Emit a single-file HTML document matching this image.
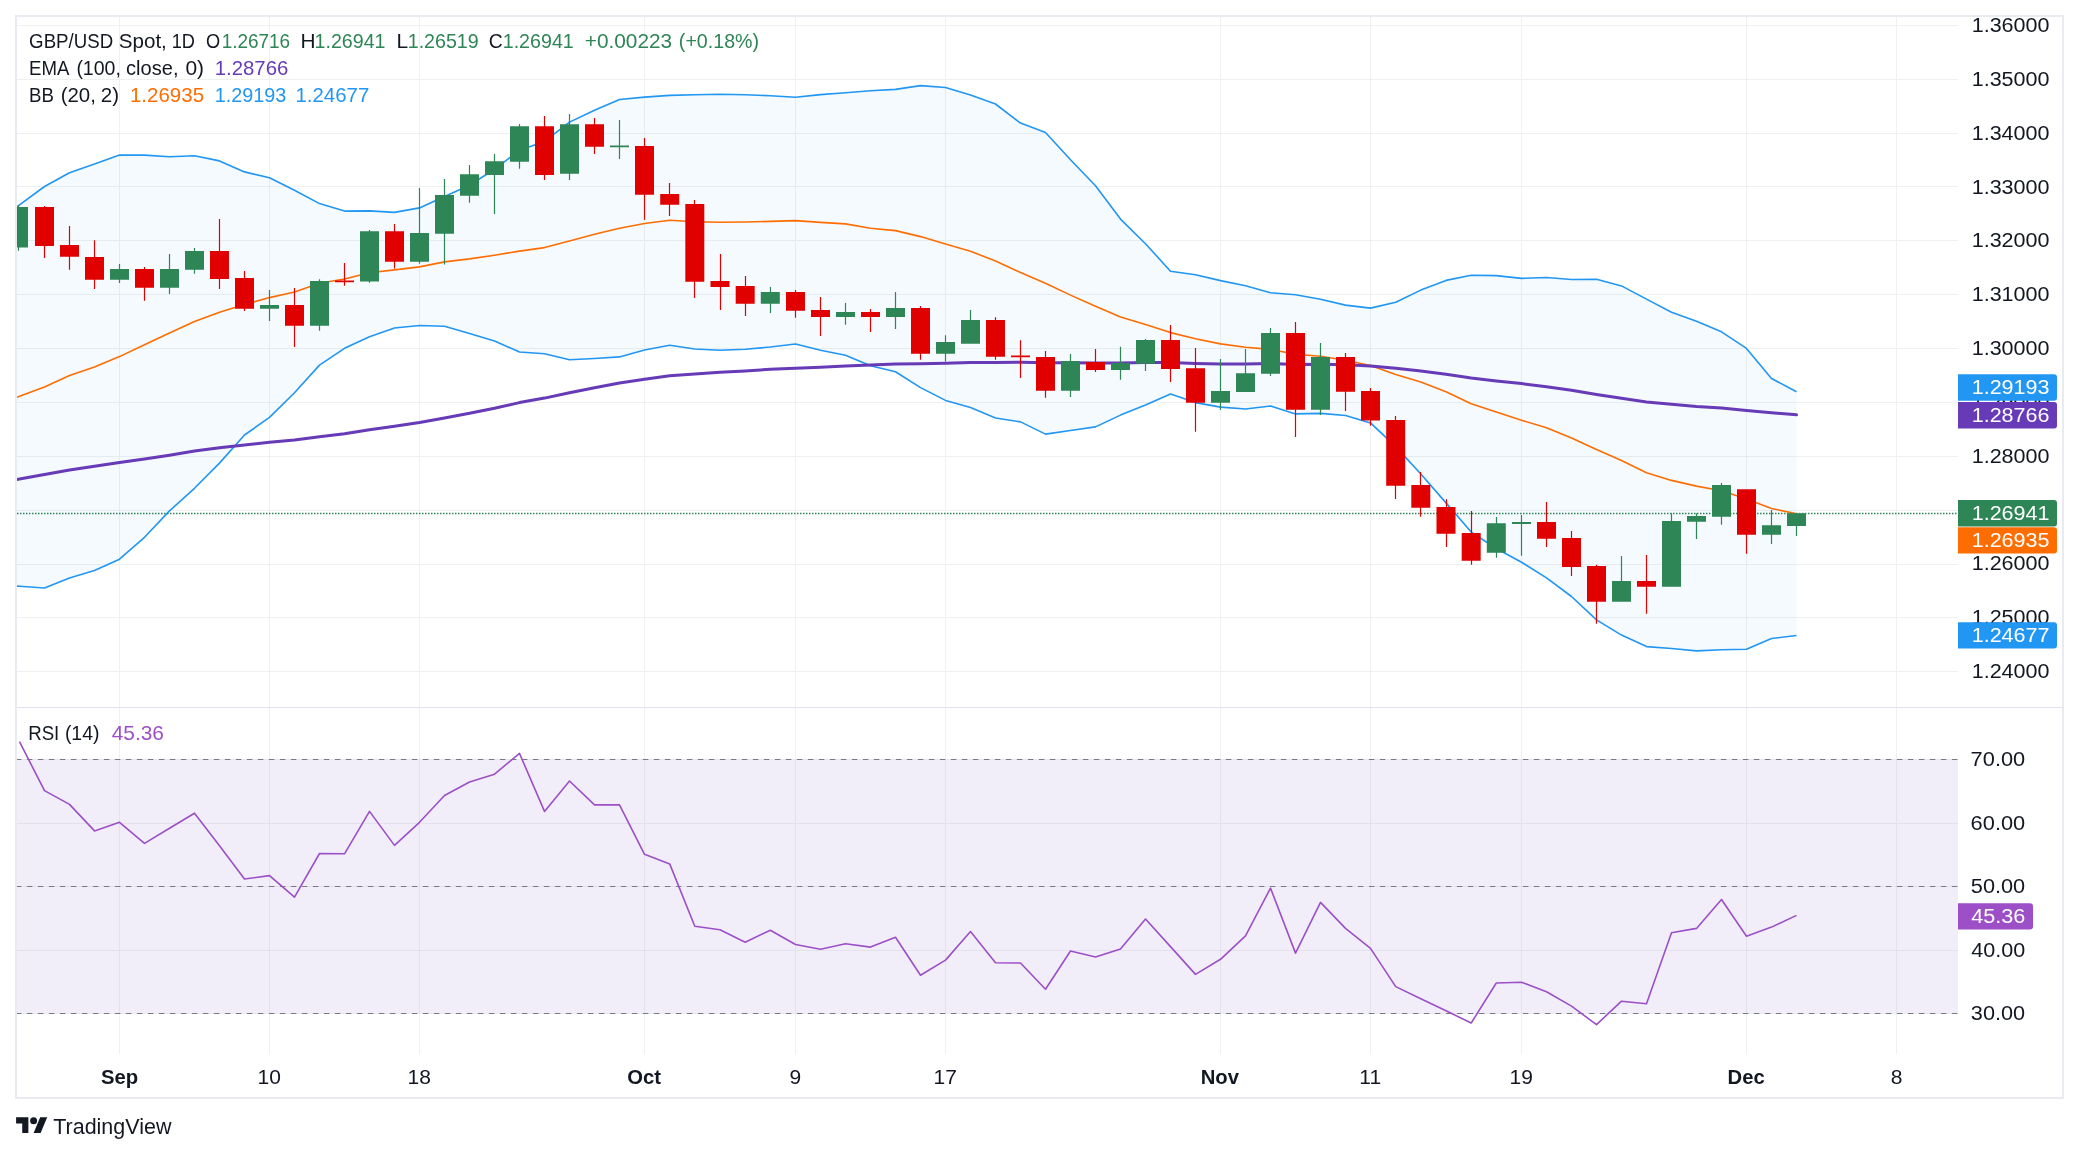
<!DOCTYPE html><html><head><meta charset="utf-8"><style>html,body{margin:0;padding:0;background:#fff;}body{width:2079px;height:1154px;position:relative;overflow:hidden;}</style></head><body><svg width="2079" height="1154" viewBox="0 0 2079 1154" style="position:absolute;left:0;top:0;will-change:transform">
<defs><clipPath id="cm"><rect x="17" y="17" width="1941" height="689"/></clipPath><clipPath id="cr"><rect x="17" y="708" width="1941" height="346"/></clipPath></defs>
<rect width="2079" height="1154" fill="#fff"/>
<path d="M17 25.5H1958M17 79.5H1958M17 133.5H1958M17 186.5H1958M17 240.5H1958M17 294.5H1958M17 348.5H1958M17 402.5H1958M17 456.5H1958M17 510.5H1958M17 564.5H1958M17 617.5H1958M17 671.5H1958M17 759.5H1958M17 823.5H1958M17 886.5H1958M17 950.5H1958M17 1013.5H1958M119.5 17V1054M269.5 17V1054M419.5 17V1054M644.5 17V1054M795.5 17V1054M945.5 17V1054M1220.5 17V1054M1370.5 17V1054M1521.5 17V1054M1746.5 17V1054M1896.5 17V1054" stroke="#eff1f1" stroke-width="1" fill="none"/>
<rect x="17" y="707" width="2045" height="1" fill="#e0e3eb"/>
<g clip-path="url(#cm)">
<polygon points="-5.5,223.1 19.5,204.8 44.5,186.5 69.5,172.7 94.5,163.9 119.5,155.1 144.5,155.1 169.5,156.8 194.5,155.8 219.5,160.9 244.5,171.9 269.5,177.7 294.5,190.3 319.5,203.6 344.5,211.1 369.5,210.9 394.5,212.4 419.5,207.9 444.5,196.5 469.5,185.2 494.5,169.3 519.5,150.3 544.5,141.4 569.5,122.1 594.5,110.2 619.5,99.5 644.5,97.1 669.7,95.4 694.8,94.7 720,94.3 745.2,94.7 770.3,95.7 795.5,97.3 820.5,94.6 845.5,92.7 870.5,90.8 895.5,89.4 920.5,85.6 945.5,87.5 970.5,94.9 995.5,104 1020.5,123.1 1045.5,132.5 1070.5,159.8 1095.5,185.7 1120.5,219.1 1145.5,243.7 1170.5,271.2 1195.5,274.7 1220.5,280.6 1245.5,285.7 1270.5,292.7 1295.5,294.8 1320.5,299.3 1345.5,305.1 1370.5,308.1 1395.7,302.2 1420.8,290.1 1446,280.4 1471.2,275.3 1496.3,275.6 1521.5,278.4 1546.5,277.5 1571.5,279.5 1596.5,279.3 1621.5,285.9 1646.5,299.1 1671.5,312.3 1696.5,321.3 1721.5,331.8 1746.5,348.4 1771.5,378.5 1796.5,391.8 1796.5,635.5 1771.5,638.5 1746.5,649.3 1721.5,649.8 1696.5,650.9 1671.5,648.5 1646.5,646.6 1621.5,635.1 1596.5,619.9 1571.5,596.5 1546.5,577.9 1521.5,562.2 1496.3,548.5 1471.2,532.1 1446,502.9 1420.8,474 1395.7,446.6 1370.5,422.9 1345.5,415.5 1320.5,413.4 1295.5,413.9 1270.5,406 1245.5,409 1220.5,407.1 1195.5,402.6 1170.5,394 1145.5,405.1 1120.5,415.1 1095.5,426.9 1070.5,430.5 1045.5,434.1 1020.5,421.9 995.5,418 970.5,407.6 945.5,400.4 920.5,387.6 895.5,371.7 870.5,365.7 845.5,355.2 820.5,350.2 795.5,344 770.3,347 745.2,349.3 720,350.2 694.8,349 669.7,345.2 644.5,350 619.5,356.9 594.5,358.5 569.5,359.8 544.5,353.7 519.5,352 494.5,341 469.5,333.5 444.5,326.2 419.5,325.5 394.5,328 369.5,336.8 344.5,348.3 319.5,365.1 294.5,392.8 269.5,417.4 244.5,435 219.5,463.1 194.5,488.3 169.5,510.9 144.5,537.3 119.5,559.2 94.5,570.5 69.5,578 44.5,588 19.5,586.3 -5.5,584.6" fill="rgba(33,150,243,0.05)"/>
<polyline points="-5.5,223.1 19.5,204.8 44.5,186.5 69.5,172.7 94.5,163.9 119.5,155.1 144.5,155.1 169.5,156.8 194.5,155.8 219.5,160.9 244.5,171.9 269.5,177.7 294.5,190.3 319.5,203.6 344.5,211.1 369.5,210.9 394.5,212.4 419.5,207.9 444.5,196.5 469.5,185.2 494.5,169.3 519.5,150.3 544.5,141.4 569.5,122.1 594.5,110.2 619.5,99.5 644.5,97.1 669.7,95.4 694.8,94.7 720,94.3 745.2,94.7 770.3,95.7 795.5,97.3 820.5,94.6 845.5,92.7 870.5,90.8 895.5,89.4 920.5,85.6 945.5,87.5 970.5,94.9 995.5,104 1020.5,123.1 1045.5,132.5 1070.5,159.8 1095.5,185.7 1120.5,219.1 1145.5,243.7 1170.5,271.2 1195.5,274.7 1220.5,280.6 1245.5,285.7 1270.5,292.7 1295.5,294.8 1320.5,299.3 1345.5,305.1 1370.5,308.1 1395.7,302.2 1420.8,290.1 1446,280.4 1471.2,275.3 1496.3,275.6 1521.5,278.4 1546.5,277.5 1571.5,279.5 1596.5,279.3 1621.5,285.9 1646.5,299.1 1671.5,312.3 1696.5,321.3 1721.5,331.8 1746.5,348.4 1771.5,378.5 1796.5,391.8" fill="none" stroke="#2196f3" stroke-width="1.6" stroke-linejoin="round"/>
<polyline points="-5.5,584.6 19.5,586.3 44.5,588 69.5,578 94.5,570.5 119.5,559.2 144.5,537.3 169.5,510.9 194.5,488.3 219.5,463.1 244.5,435 269.5,417.4 294.5,392.8 319.5,365.1 344.5,348.3 369.5,336.8 394.5,328 419.5,325.5 444.5,326.2 469.5,333.5 494.5,341 519.5,352 544.5,353.7 569.5,359.8 594.5,358.5 619.5,356.9 644.5,350 669.7,345.2 694.8,349 720,350.2 745.2,349.3 770.3,347 795.5,344 820.5,350.2 845.5,355.2 870.5,365.7 895.5,371.7 920.5,387.6 945.5,400.4 970.5,407.6 995.5,418 1020.5,421.9 1045.5,434.1 1070.5,430.5 1095.5,426.9 1120.5,415.1 1145.5,405.1 1170.5,394 1195.5,402.6 1220.5,407.1 1245.5,409 1270.5,406 1295.5,413.9 1320.5,413.4 1345.5,415.5 1370.5,422.9 1395.7,446.6 1420.8,474 1446,502.9 1471.2,532.1 1496.3,548.5 1521.5,562.2 1546.5,577.9 1571.5,596.5 1596.5,619.9 1621.5,635.1 1646.5,646.6 1671.5,648.5 1696.5,650.9 1721.5,649.8 1746.5,649.3 1771.5,638.5 1796.5,635.5" fill="none" stroke="#2196f3" stroke-width="1.6" stroke-linejoin="round"/>
<polyline points="-5.5,405.6 19.5,396.3 44.5,387 69.5,375.5 94.5,366.9 119.5,356.6 144.5,344.8 169.5,333 194.5,321.5 219.5,312.2 244.5,304.6 269.5,297.6 294.5,292 319.5,283.3 344.5,279 369.5,272.7 394.5,269.9 419.5,266.9 444.5,261.9 469.5,258.9 494.5,255.2 519.5,251.1 544.5,247.6 569.5,241 594.5,234.3 619.5,228.2 644.5,223.5 669.7,220.3 694.8,221.8 720,222.3 745.2,222 770.3,221.4 795.5,220.6 820.5,222.4 845.5,223.9 870.5,228.2 895.5,230.6 920.5,236.6 945.5,243.9 970.5,251.2 995.5,261 1020.5,272.5 1045.5,283.3 1070.5,295.1 1095.5,306.3 1120.5,317.1 1145.5,324.4 1170.5,332.6 1195.5,338.7 1220.5,343.9 1245.5,347.3 1270.5,349.4 1295.5,354.3 1320.5,356.3 1345.5,360.3 1370.5,365.5 1395.7,374.4 1420.8,382.1 1446,391.7 1471.2,403.7 1496.3,412 1521.5,420.3 1546.5,427.7 1571.5,438 1596.5,449.6 1621.5,460.5 1646.5,472.8 1671.5,480.4 1696.5,486.1 1721.5,490.8 1746.5,498.9 1771.5,508.5 1796.5,513.7" fill="none" stroke="#ff6d00" stroke-width="1.6" stroke-linejoin="round"/>
<polyline points="-5.5,483.6 19.5,479 44.5,474.4 69.5,470.1 94.5,466.3 119.5,462.4 144.5,458.9 169.5,455.2 194.5,451.1 219.5,447.7 244.5,445 269.5,442.2 294.5,439.9 319.5,436.8 344.5,433.7 369.5,429.7 394.5,426.3 419.5,422.5 444.5,418 469.5,413.2 494.5,408.2 519.5,402.6 544.5,398.1 569.5,392.7 594.5,387.8 619.5,383 644.5,379.3 669.7,375.8 694.8,374 720,372.3 745.2,370.9 770.3,369.3 795.5,368.2 820.5,367.2 845.5,366.1 870.5,365.1 895.5,364 920.5,363.8 945.5,363.3 970.5,362.5 995.5,362.4 1020.5,362.3 1045.5,362.8 1070.5,362.8 1095.5,362.9 1120.5,362.9 1145.5,362.5 1170.5,362.6 1195.5,363.4 1220.5,363.9 1245.5,364.1 1270.5,363.5 1295.5,364.4 1320.5,364.3 1345.5,364.8 1370.5,365.9 1395.7,368.3 1420.8,371.1 1446,374.3 1471.2,378 1496.3,380.9 1521.5,383.6 1546.5,386.7 1571.5,390.3 1596.5,394.5 1621.5,398.2 1646.5,401.9 1671.5,404.3 1696.5,406.5 1721.5,408 1746.5,410.5 1771.5,412.8 1796.5,414.8" fill="none" stroke="#673ab7" stroke-width="3" stroke-linejoin="round" stroke-linecap="round"/>
<path d="M17 513.4H1958" stroke="#2e8555" stroke-width="1.5" stroke-dasharray="1.5 1.5"/>
<path d="M9 207H28V247.6H9ZM17.9 205.1H19.1V250.8H17.9ZM110 269H129V279.8H110ZM118.9 264H120.1V282.9H118.9ZM160 269H179V287.8H160ZM168.9 254H170.1V294H168.9ZM185 251H204V269.7H185ZM193.9 248.1H195.1V273.8H193.9ZM260 305.1H279V308.7H260ZM268.9 290H270.1V321H268.9ZM310 281H329V325.7H310ZM318.9 279.2H320.1V330.8H318.9ZM360 231.2H379V281.6H360ZM368.9 230H370.1V282.8H368.9ZM410 233.1H429V261.7H410ZM418.9 188H420.1V263.8H418.9ZM435 195H454V233.8H435ZM443.9 178.9H445.1V264.6H443.9ZM460 174.2H479V195.7H460ZM468.9 165H470.1V202.8H468.9ZM485 161.2H504V174.9H485ZM493.9 154.1H495.1V213.9H493.9ZM510 126.2H529V161.7H510ZM518.9 123.9H520.1V168.8H518.9ZM560 124.3H579V173.8H560ZM568.9 113.9H570.1V180.1H568.9ZM610 145.5H629V147.3H610ZM618.9 120.1H620.1V158.9H618.9ZM760.8 292H779.8V303.8H760.8ZM769.9 287H771.1V313H769.9ZM836 312.1H855V317H836ZM844.9 302.9H846.1V324.8H844.9ZM886 308.1H905V317H886ZM894.9 292H896.1V328.9H894.9ZM936 342.1H955V353.7H936ZM944.9 335.2H946.1V361.5H944.9ZM961 320H980V343.7H961ZM969.9 310.1H971.1V343.7H969.9ZM1061 361.1H1080V390.7H1061ZM1069.9 354.1H1071.1V396.9H1069.9ZM1111 363H1130V369.9H1111ZM1119.9 346.8H1121.1V379.8H1119.9ZM1136 340.1H1155V363.7H1136ZM1144.9 339H1146.1V370.9H1144.9ZM1211 391H1230V402.8H1211ZM1219.9 359H1221.1V409.9H1219.9ZM1236 373.2H1255V391.9H1236ZM1244.9 348.9H1246.1V391.9H1244.9ZM1261 332.9H1280V373.8H1261ZM1269.9 327.9H1271.1V375.9H1269.9ZM1311 357H1330V409.8H1311ZM1319.9 342.9H1321.1V414.9H1319.9ZM1486.8 523.2H1505.8V552.7H1486.8ZM1495.9 517.1H1497.1V557.8H1495.9ZM1512 522H1531V523.9H1512ZM1520.9 515H1522.1V555.8H1520.9ZM1612 581.1H1631V601.7H1612ZM1620.9 556.1H1622.1V601.7H1620.9ZM1662 521H1681V586.8H1662ZM1670.9 513.3H1672.1V586.8H1670.9ZM1687 516H1706V521.8H1687ZM1695.9 513.3H1697.1V538.9H1695.9ZM1712 485.1H1731V516.7H1712ZM1720.9 483H1722.1V524.8H1720.9ZM1762 525.2H1781V534.7H1762ZM1770.9 510.1H1772.1V543.9H1770.9ZM1787 513.3H1806V525.9H1787ZM1795.9 513.3H1797.1V536H1795.9Z" fill="#2e8555"/>
<path d="M35 207H54V245.9H35ZM43.9 205.9H45.1V257.9H43.9ZM60 245.1H79V256.8H60ZM68.9 226H70.1V269.8H68.9ZM85 257.1H104V279.8H85ZM93.9 240.2H95.1V288.9H93.9ZM135 269H154V287.8H135ZM143.9 267H145.1V300.8H143.9ZM210 251H229V278.9H210ZM218.9 219H220.1V288.9H218.9ZM235 278.1H254V308.7H235ZM243.9 271.1H245.1V311H243.9ZM285 305.1H304V325.7H285ZM293.9 288.1H295.1V347.1H293.9ZM335 280.4H354V282.2H335ZM343.9 262.9H345.1V285.8H343.9ZM385 231.2H404V261.7H385ZM393.9 224.1H395.1V268.5H393.9ZM535 126.2H554V174.9H535ZM543.9 115.9H545.1V180.1H543.9ZM585 124.3H604V146.8H585ZM593.9 117.9H595.1V154.1H593.9ZM635 146.1H654V194.8H635ZM643.9 138.1H645.1V219.8H643.9ZM660.2 193.9H679.2V204.7H660.2ZM668.9 183H670.1V215.9H668.9ZM685.3 204H704.3V281.8H685.3ZM693.9 200H695.1V297.9H693.9ZM710.5 280.9H729.5V287H710.5ZM719.9 254.1H721.1V309.9H719.9ZM735.7 286.1H754.7V303.8H735.7ZM744.9 276.1H746.1V315.9H744.9ZM786 292H805V310.8H786ZM794.9 289.9H796.1V317.8H794.9ZM811 310H830V317H811ZM819.9 297H821.1V335.9H819.9ZM861 312.1H880V317H861ZM869.9 309H871.1V332H869.9ZM911 308.1H930V353.7H911ZM919.9 306H921.1V359.8H919.9ZM986 320H1005V356.7H986ZM994.9 317.2H996.1V359.8H994.9ZM1011 355.5H1030V357.3H1011ZM1019.9 340.3H1021.1V377.9H1019.9ZM1036 357.1H1055V390.7H1036ZM1044.9 351H1046.1V397.8H1044.9ZM1086 361.9H1105V369.9H1086ZM1094.9 348.9H1096.1V372H1094.9ZM1161 340.1H1180V368.9H1161ZM1169.9 325H1171.1V381.9H1169.9ZM1186 368.2H1205V402.8H1186ZM1194.9 348.1H1196.1V431.8H1194.9ZM1286 332.9H1305V409.8H1286ZM1294.9 322.1H1296.1V436.9H1294.9ZM1336 357H1355V391.8H1336ZM1344.9 353H1346.1V410.9H1344.9ZM1361 390.9H1380V420.6H1361ZM1369.9 388H1371.1V425.8H1369.9ZM1386.2 419.9H1405.2V485.8H1386.2ZM1394.9 416.1H1396.1V498.9H1394.9ZM1411.3 485.1H1430.3V507.8H1411.3ZM1419.9 472.1H1421.1V516.8H1419.9ZM1436.5 507.1H1455.5V533.8H1436.5ZM1445.9 499.3H1447.1V546.9H1445.9ZM1461.7 533.1H1480.7V560.8H1461.7ZM1470.9 511.1H1472.1V564.8H1470.9ZM1537 522H1556V538.8H1537ZM1545.9 501.9H1547.1V546.9H1545.9ZM1562 538.1H1581V566.9H1562ZM1570.9 531H1572.1V576H1570.9ZM1587 566H1606V601.7H1587ZM1595.9 564.8H1597.1V623.7H1595.9ZM1637 581.1H1656V586.8H1637ZM1645.9 554.9H1647.1V613.8H1645.9ZM1737 489.2H1756V534.7H1737ZM1745.9 489.2H1747.1V553.8H1745.9Z" fill="#e00000"/>
</g>
<g clip-path="url(#cr)">
<rect x="17" y="759.5" width="1941" height="253.9" fill="rgba(126,87,194,0.1)"/>
<path d="M15.9 759.5H1958" stroke="#787b86" stroke-width="1" stroke-dasharray="5.5 5.5"/>
<path d="M15.9 886.5H1958" stroke="#787b86" stroke-width="1" stroke-dasharray="5.5 5.5"/>
<path d="M15.9 1013.5H1958" stroke="#787b86" stroke-width="1" stroke-dasharray="5.5 5.5"/>
<polyline points="19.5,741.7 44.5,790.6 69.5,804.4 94.5,830.9 119.5,822.3 144.5,843.4 169.5,828.3 194.5,813.2 219.5,845.7 244.5,879 269.5,875.6 294.5,897.2 319.5,853.5 344.5,853.8 369.5,811.4 394.5,845.4 419.5,822.3 444.5,795.5 469.5,782 494.5,774.2 519.5,753.4 544.5,811.4 569.5,781 594.5,804.9 619.5,804.9 644.5,854.3 669.7,863.9 694.8,926.3 720,929.7 745.2,942.2 770.3,930.2 795.5,944.5 820.5,949.2 845.5,943.7 870.5,947.1 895.5,937.2 920.5,975.2 945.5,960.1 970.5,931.5 995.5,962.7 1020.5,963 1045.5,989.2 1070.5,951 1095.5,957 1120.5,948.9 1145.5,919 1170.5,946.6 1195.5,974.4 1220.5,959.3 1245.5,935.9 1270.5,888.1 1295.5,953.1 1320.5,902.4 1345.5,928.4 1370.5,948.4 1395.7,986.6 1420.8,998.7 1446,1010.8 1471.2,1023 1496.3,983 1521.5,982.2 1546.5,991.8 1571.5,1006.1 1596.5,1024.6 1621.5,1001.2 1646.5,1003.8 1671.5,932.8 1696.5,928.4 1721.5,899.5 1746.5,936.2 1771.5,927.1 1796.5,915.4" fill="none" stroke="#9c4fc6" stroke-width="1.6" stroke-linejoin="round"/>
</g>
<path d="M15 15H2064V17H15ZM15 1097H2064V1099H15ZM15 17H17V1097H15ZM2062 17H2064V1097H2062Z" fill="#e9ebf0"/>
<g font-family="Liberation Sans, sans-serif" font-size="19.6" fill="#131722"><text x="1971.68" y="32.15" textLength="77.87" lengthAdjust="spacingAndGlyphs">1.36000</text><text x="1971.68" y="85.98" textLength="77.87" lengthAdjust="spacingAndGlyphs">1.35000</text><text x="1971.68" y="139.82" textLength="77.87" lengthAdjust="spacingAndGlyphs">1.34000</text><text x="1971.68" y="193.65" textLength="77.87" lengthAdjust="spacingAndGlyphs">1.33000</text><text x="1971.68" y="247.48" textLength="77.87" lengthAdjust="spacingAndGlyphs">1.32000</text><text x="1971.68" y="301.31" textLength="77.87" lengthAdjust="spacingAndGlyphs">1.31000</text><text x="1971.68" y="355.15" textLength="77.87" lengthAdjust="spacingAndGlyphs">1.30000</text><text x="1971.68" y="408.98" textLength="77.87" lengthAdjust="spacingAndGlyphs">1.29000</text><text x="1971.68" y="462.81" textLength="77.87" lengthAdjust="spacingAndGlyphs">1.28000</text><text x="1971.68" y="516.65" textLength="77.87" lengthAdjust="spacingAndGlyphs">1.27000</text><text x="1971.68" y="570.48" textLength="77.87" lengthAdjust="spacingAndGlyphs">1.26000</text><text x="1971.68" y="624.31" textLength="77.87" lengthAdjust="spacingAndGlyphs">1.25000</text><text x="1971.68" y="678.15" textLength="77.87" lengthAdjust="spacingAndGlyphs">1.24000</text><text x="1970.61" y="765.70" textLength="54.61" lengthAdjust="spacingAndGlyphs">70.00</text><text x="1970.61" y="829.70" textLength="54.61" lengthAdjust="spacingAndGlyphs">60.00</text><text x="1970.83" y="892.70" textLength="54.39" lengthAdjust="spacingAndGlyphs">50.00</text><text x="1971.21" y="956.70" textLength="54.00" lengthAdjust="spacingAndGlyphs">40.00</text><text x="1970.89" y="1019.70" textLength="54.33" lengthAdjust="spacingAndGlyphs">30.00</text></g>
<g font-family="Liberation Sans, sans-serif" font-size="19.6"><path d="M1958 374.3H2054Q2057 374.3 2057 377.3V397.7Q2057 400.7 2054 400.7H1958Z" fill="#2196f3"/><text x="1971.68" y="394.00" textLength="77.87" lengthAdjust="spacingAndGlyphs" fill="#fff">1.29193</text><path d="M1958 402.1H2054Q2057 402.1 2057 405.1V425.5Q2057 428.5 2054 428.5H1958Z" fill="#673ab7"/><text x="1971.68" y="421.80" textLength="77.87" lengthAdjust="spacingAndGlyphs" fill="#fff">1.28766</text><path d="M1958 500.1H2054Q2057 500.1 2057 503.1V523.5Q2057 526.5 2054 526.5H1958Z" fill="#2e8555"/><text x="1971.68" y="519.80" textLength="77.87" lengthAdjust="spacingAndGlyphs" fill="#fff">1.26941</text><path d="M1958 527.2H2054Q2057 527.2 2057 530.2V550.6Q2057 553.6 2054 553.6H1958Z" fill="#ff6d00"/><text x="1971.68" y="546.90" textLength="77.87" lengthAdjust="spacingAndGlyphs" fill="#fff">1.26935</text><path d="M1958 622.2H2054Q2057 622.2 2057 625.2V645.6Q2057 648.6 2054 648.6H1958Z" fill="#2196f3"/><text x="1971.68" y="641.90" textLength="77.87" lengthAdjust="spacingAndGlyphs" fill="#fff">1.24677</text><path d="M1958 903.2H2030Q2033 903.2 2033 906.2V926.6Q2033 929.6 2030 929.6H1958Z" fill="#9c4fc6"/><text x="1971.21" y="922.90" textLength="54.11" lengthAdjust="spacingAndGlyphs" fill="#fff">45.36</text></g>
<g font-family="Liberation Sans, sans-serif" font-size="19.6" fill="#131722"><text x="101.04" y="1084.00" textLength="37.15" lengthAdjust="spacingAndGlyphs" font-weight="bold">Sep</text><text x="257.44" y="1084.00" textLength="23.38" lengthAdjust="spacingAndGlyphs">10</text><text x="407.50" y="1084.00" textLength="23.38" lengthAdjust="spacingAndGlyphs">18</text><text x="627.33" y="1084.00" textLength="33.77" lengthAdjust="spacingAndGlyphs" font-weight="bold">Oct</text><text x="789.64" y="1084.00" textLength="11.69" lengthAdjust="spacingAndGlyphs">9</text><text x="933.57" y="1084.00" textLength="23.38" lengthAdjust="spacingAndGlyphs">17</text><text x="1200.73" y="1084.00" textLength="38.27" lengthAdjust="spacingAndGlyphs" font-weight="bold">Nov</text><text x="1359.31" y="1084.00" textLength="21.82" lengthAdjust="spacingAndGlyphs">11</text><text x="1509.52" y="1084.00" textLength="23.38" lengthAdjust="spacingAndGlyphs">19</text><text x="1727.54" y="1084.00" textLength="37.16" lengthAdjust="spacingAndGlyphs" font-weight="bold">Dec</text><text x="1890.67" y="1084.00" textLength="11.69" lengthAdjust="spacingAndGlyphs">8</text></g>
<g font-family="Liberation Sans, sans-serif" font-size="19.8"><text x="29.12" y="48.00" textLength="84.04" lengthAdjust="spacingAndGlyphs" fill="#131722">GBP/USD</text><text x="118.77" y="48.00" textLength="48.08" lengthAdjust="spacingAndGlyphs" fill="#131722">Spot,</text><text x="171.64" y="48.00" textLength="23.24" lengthAdjust="spacingAndGlyphs" fill="#131722">1D</text><text x="205.94" y="48.00" textLength="14.13" lengthAdjust="spacingAndGlyphs" fill="#131722">O</text><text x="221.68" y="48.00" textLength="68.47" lengthAdjust="spacingAndGlyphs" fill="#2e8555">1.26716</text><text x="300.48" y="48.00" textLength="15.03" lengthAdjust="spacingAndGlyphs" fill="#131722">H</text><text x="314.53" y="48.00" textLength="71.05" lengthAdjust="spacingAndGlyphs" fill="#2e8555">1.26941</text><text x="396.47" y="48.00" textLength="11.63" lengthAdjust="spacingAndGlyphs" fill="#131722">L</text><text x="407.73" y="48.00" textLength="70.90" lengthAdjust="spacingAndGlyphs" fill="#2e8555">1.26519</text><text x="488.63" y="48.00" textLength="13.99" lengthAdjust="spacingAndGlyphs" fill="#131722">C</text><text x="502.73" y="48.00" textLength="71.05" lengthAdjust="spacingAndGlyphs" fill="#2e8555">1.26941</text><text x="584.81" y="48.00" textLength="87.30" lengthAdjust="spacingAndGlyphs" fill="#2e8555">+0.00223</text><text x="678.87" y="48.00" textLength="80.22" lengthAdjust="spacingAndGlyphs" fill="#2e8555">(+0.18%)</text><text x="28.96" y="74.70" textLength="40.37" lengthAdjust="spacingAndGlyphs" fill="#131722">EMA</text><text x="76.38" y="74.70" textLength="44.46" lengthAdjust="spacingAndGlyphs" fill="#131722">(100,</text><text x="126.05" y="74.70" textLength="52.46" lengthAdjust="spacingAndGlyphs" fill="#131722">close,</text><text x="185.46" y="74.70" textLength="18.63" lengthAdjust="spacingAndGlyphs" fill="#131722">0)</text><text x="214.67" y="74.70" textLength="73.64" lengthAdjust="spacingAndGlyphs" fill="#673ab7">1.28766</text><text x="28.96" y="101.60" textLength="24.90" lengthAdjust="spacingAndGlyphs" fill="#131722">BB</text><text x="60.73" y="101.60" textLength="35.12" lengthAdjust="spacingAndGlyphs" fill="#131722">(20,</text><text x="100.77" y="101.60" textLength="18.30" lengthAdjust="spacingAndGlyphs" fill="#131722">2)</text><text x="129.96" y="101.60" textLength="74.11" lengthAdjust="spacingAndGlyphs" fill="#ff6d00">1.26935</text><text x="214.71" y="101.60" textLength="71.68" lengthAdjust="spacingAndGlyphs" fill="#2196f3">1.29193</text><text x="295.47" y="101.60" textLength="73.80" lengthAdjust="spacingAndGlyphs" fill="#2196f3">1.24677</text><text x="28.16" y="740.10" textLength="31.16" lengthAdjust="spacingAndGlyphs" fill="#131722">RSI</text><text x="64.88" y="740.10" textLength="34.60" lengthAdjust="spacingAndGlyphs" fill="#131722">(14)</text><text x="111.73" y="740.10" textLength="52.26" lengthAdjust="spacingAndGlyphs" fill="#9c4fc6">45.36</text></g>
<g transform="translate(16.1,1113.8) scale(0.876)" fill="#131722"><path d="M14 22H7V11H0V4h14v18zM28 22h-8l7.5-18h8L28 22z"/><circle cx="20" cy="8" r="4"/></g>
<g font-family="Liberation Sans, sans-serif" font-size="21.7" fill="#131722"><text x="53.22" y="1133.80" textLength="118.24" lengthAdjust="spacingAndGlyphs">TradingView</text></g>
</svg></body></html>
